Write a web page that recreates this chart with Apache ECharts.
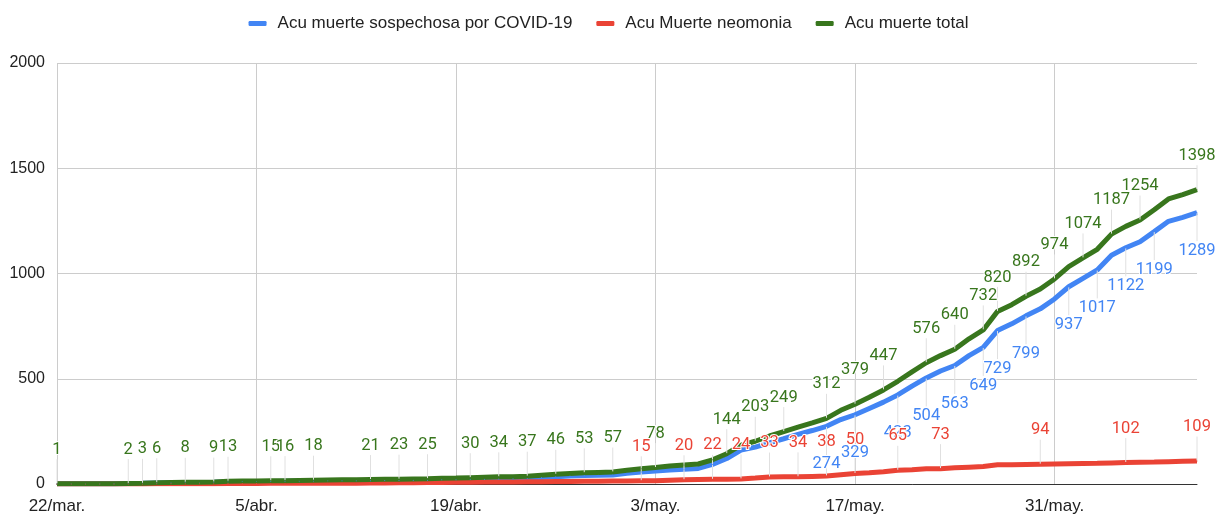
<!DOCTYPE html>
<html>
<head>
<meta charset="utf-8">
<script src="https://cdn.jsdelivr.net/npm/echarts@6/dist/echarts.min.js"></script>
<style>html,body{margin:0;padding:0;background:#fff;}#c{width:1217px;height:515px;}</style>
</head>
<body>
<div id="c"></div>
<script>
// ---- data ----
const seriesNames = ['Acu muerte sospechosa por COVID-19', 'Acu Muerte neomonia', 'Acu muerte total'];
const startDate = '2020-03-22';
const monthNames = ['ene', 'feb', 'mar', 'abr', 'may', 'jun', 'jul'];
const yTicks = [0, 500, 1000, 1500, 2000];

const sospechosa = [1,1,1,1,1,2,3,5,6,7,7,8,11,12,12,12,13,14,14,15,16,16,16,17,17,18,18,20,20,22,
  23,24,25,26,31,34,38,40,42,43,51,57,62,67,70,74,93,121,161,175,195,215,236,254,274,306,329,359,389,423,
  465,504,537,563,610,649,729,761,799,832,879,937,977,1017,1087,1122,1151,1199,1248,1267,1289];
const neumonia = [0,0,0,0,0,0,0,1,1,1,1,1,2,2,2,3,3,3,4,4,4,4,5,5,6,6,7,7,8,8,
  9,10,10,11,11,12,12,13,13,14,14,15,16,18,20,21,22,23,24,28,33,34,34,36,38,44,50,53,58,65,
  68,72,73,77,80,83,91,91,93,94,95,96,97,98,100,102,103,104,106,108,109];
const total = [1,1,1,1,1,2,3,6,7,8,8,9,13,14,14,15,16,17,18,19,20,20,21,22,23,24,25,27,28,30,
  32,34,35,37,42,46,50,53,55,57,65,72,78,85,90,95,115,144,185,203,228,249,270,290,312,350,379,412,447,488,
  533,576,610,640,690,732,820,852,892,926,974,1033,1074,1115,1187,1224,1254,1303,1354,1375,1398];

// indices of points whose value label is visible
const labelIdxSospechosa = [54,56,59,61,63,65,66,68,71,73,75,77,80];
const labelIdxNeumonia = [41,44,46,48,50,52,54,56,59,62,69,75,80];
const labelIdxTotal = [0,5,6,7,9,11,12,15,16,18,22,24,26,29,31,33,35,37,39,42,47,49,51,54,56,58,61,63,65,66,68,70,72,74,76,80];

// ---- categories ----
const categories = [];
{
  const d0 = new Date(startDate + 'T00:00:00Z');
  for (let i = 0; i < total.length; i++) {
    const d = new Date(d0.getTime() + i * 86400000);
    categories.push(d.getUTCDate() + '/' + monthNames[d.getUTCMonth()] + '.');
  }
}

const colors = ['#4285F4', '#EA4335', '#38761D'];
const FONT = 'Roboto, "Liberation Sans", Arial, sans-serif';
const AXFONT = '"Liberation Sans", Arial, sans-serif';

function build(values, idx) {
  const set = new Set(idx);
  return values.map((v, i) => set.has(i) ? {value: v, label: {show: true}} : {value: v});
}

function mkSeries(k, values, idx, below) {
  return {
    name: seriesNames[k],
    type: 'line',
    data: build(values, idx),
    symbol: 'circle',
    symbolSize: 1,
    showAllSymbol: true,
    lineStyle: {width: 5, color: colors[k]},
    itemStyle: {color: colors[k]},
    label: {
      show: false,
      position: below ? 'bottom' : 'top',
      distance: 4,
      color: colors[k],
      fontSize: 16.5,
      fontFamily: FONT,
      textBorderColor: '#fff',
      textBorderWidth: 2
    },
    labelLayout: function () { return {dy: below ? 25 : -21}; },
    labelLine: {show: true, lineStyle: {color: '#e0e0e0', width: 1}},
    emphasis: {disabled: true},
    animation: false
  };
}

const chart = echarts.init(document.getElementById('c'), null, {renderer: 'canvas'});
chart.setOption({
  backgroundColor: '#fff',
  animation: false,
  color: colors,
  legend: {
    top: 10,
    left: 'center',
    icon: 'roundRect',
    itemWidth: 18,
    itemHeight: 5,
    itemGap: 24,
    textStyle: {fontSize: 17, fontFamily: AXFONT, color: '#222', padding: [0, 0, 0, 6]},
    data: seriesNames
  },
  grid: {left: 57, right: 20, top: 63, bottom: 29, containLabel: false},
  xAxis: {
    type: 'category',
    data: categories,
    boundaryGap: false,
    axisLine: {show: true, lineStyle: {color: '#333', width: 1}},
    axisTick: {show: false},
    axisLabel: {interval: 13, fontSize: 17, fontFamily: AXFONT, color: '#222', margin: 14},
    splitLine: {show: true, interval: 13, lineStyle: {color: '#ccc', width: 1}}
  },
  yAxis: {
    type: 'value',
    min: yTicks[0],
    max: yTicks[yTicks.length - 1],
    interval: 500,
    axisLine: {show: false},
    axisTick: {show: false},
    axisLabel: {fontSize: 16, fontFamily: AXFONT, color: '#222', margin: 12, formatter: v => String(v)},
    splitLine: {show: true, lineStyle: {color: '#ccc', width: 1}}
  },
  series: [
    mkSeries(0, sospechosa, labelIdxSospechosa, true),
    mkSeries(1, neumonia, labelIdxNeumonia, false),
    mkSeries(2, total, labelIdxTotal, false)
  ]
});
</script>
</body>
</html>
